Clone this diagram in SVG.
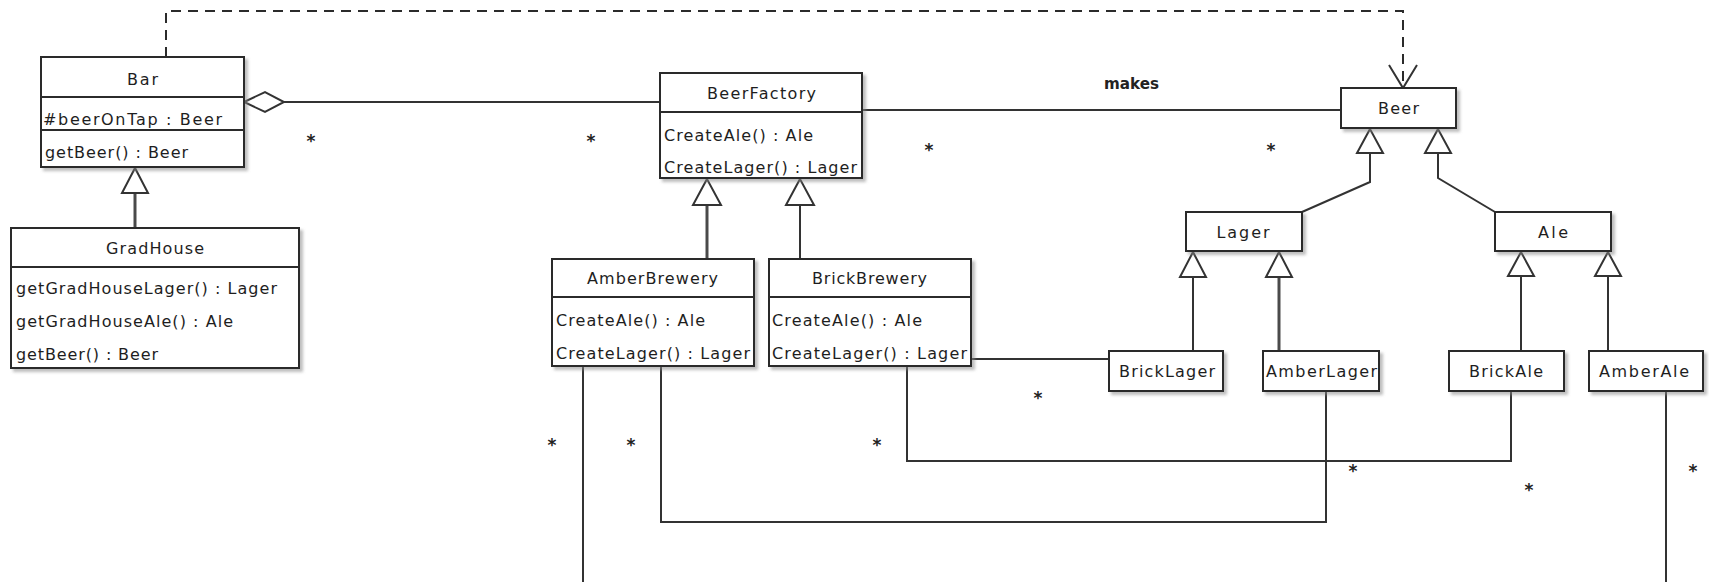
<svg xmlns="http://www.w3.org/2000/svg" width="1709" height="582" viewBox="0 0 1709 582">
<style>
.box{fill:#fff;stroke:#2b2b2b;stroke-width:2}
.div{stroke:#2b2b2b;stroke-width:2}
.t{font-family:"DejaVu Sans",Verdana,sans-serif;font-size:16px;fill:#1e1e1e}
.c{text-anchor:middle}
.ln{fill:none;stroke:#333;stroke-width:2}
.thk{fill:none;stroke:#4a4a4a;stroke-width:3}
.tri{fill:#fff;stroke:#333;stroke-width:2}
.dash{fill:none;stroke:#2b2b2b;stroke-width:2;stroke-dasharray:10,7}
.m{font-family:"DejaVu Sans",Verdana,sans-serif;font-size:17px;font-weight:bold;fill:#222;text-anchor:middle}
.mk{font-family:"DejaVu Sans",Verdana,sans-serif;font-size:16px;font-weight:bold;fill:#222}
</style>
<defs>
<filter id="sh" x="-10%" y="-10%" width="130%" height="140%">
<feDropShadow dx="3" dy="3" stdDeviation="1.5" flood-color="#888" flood-opacity="0.55"/>
</filter>
</defs>

<g id="connectors">
<!-- dependency Bar -> Beer -->
<polyline class="dash" points="166,57 166,11 1403,11 1403,86"/>
<polyline class="ln" points="1389,65 1403,88 1417,65"/>
<!-- aggregation Bar - BeerFactory -->
<polygon class="tri" points="244,102 265,92 284,102 265,112"/>
<line class="ln" x1="284" y1="102" x2="660" y2="102"/>
<!-- makes -->
<line class="ln" x1="862" y1="110" x2="1341" y2="110"/>
<!-- GradHouse -> Bar -->
<line class="thk" x1="135" y1="228" x2="135" y2="193"/>
<polygon class="tri" points="135,168 122,193 148,193"/>
<!-- AmberBrewery -> BeerFactory -->
<line class="thk" x1="707" y1="259" x2="707" y2="205"/>
<polygon class="tri" points="707,179 693,205 721,205"/>
<!-- BrickBrewery -> BeerFactory -->
<line class="ln" x1="800" y1="259" x2="800" y2="205"/>
<polygon class="tri" points="800,179 786,205 814,205"/>
<!-- Lager -> Beer -->
<polyline class="ln" points="1302,212 1370,182 1370,153"/>
<polygon class="tri" points="1370,129 1357,153 1383,153"/>
<!-- Ale -> Beer -->
<polyline class="ln" points="1495,212 1438,178 1438,153"/>
<polygon class="tri" points="1438,129 1425,153 1451,153"/>
<!-- BrickLager -> Lager -->
<line class="ln" x1="1193" y1="351" x2="1193" y2="277"/>
<polygon class="tri" points="1193,252 1180,277 1206,277"/>
<!-- AmberLager -> Lager -->
<line class="thk" x1="1279" y1="351" x2="1279" y2="277"/>
<polygon class="tri" points="1279,252 1266,277 1292,277"/>
<!-- BrickAle -> Ale -->
<line class="ln" x1="1521" y1="351" x2="1521" y2="276"/>
<polygon class="tri" points="1521,252 1508,276 1534,276"/>
<!-- AmberAle -> Ale -->
<line class="ln" x1="1608" y1="351" x2="1608" y2="276"/>
<polygon class="tri" points="1608,252 1595,276 1621,276"/>
<!-- associations -->
<line class="ln" x1="971" y1="359" x2="1109" y2="359"/>
<polyline class="ln" points="907,366 907,461 1511,461 1511,391"/>
<polyline class="ln" points="661,366 661,522 1326,522 1326,391"/>
<line class="ln" x1="583" y1="366" x2="583" y2="582"/>
<line class="ln" x1="1666" y1="391" x2="1666" y2="582"/>
<!-- labels -->
<text class="mk" x="1104" y="89" textLength="55" lengthAdjust="spacingAndGlyphs">makes</text>
<text class="m" x="311" y="147">*</text>
<text class="m" x="591" y="147">*</text>
<text class="m" x="929" y="156">*</text>
<text class="m" x="1271" y="156">*</text>
<text class="m" x="552" y="451">*</text>
<text class="m" x="631" y="451">*</text>
<text class="m" x="877" y="451">*</text>
<text class="m" x="1038" y="404">*</text>
<text class="m" x="1353" y="477">*</text>
<text class="m" x="1529" y="496">*</text>
<text class="m" x="1693" y="477">*</text>
</g>

<g id="Bar">
<rect class="box" filter="url(#sh)" x="41" y="57" width="203" height="110"/>
<line class="div" x1="41" y1="97" x2="244" y2="97"/>
<line class="div" x1="41" y1="130" x2="244" y2="130"/>
<text class="t c" x="142.5" y="85" textLength="31" lengthAdjust="spacing">Bar</text>
<text class="t" x="43" y="125" textLength="179" lengthAdjust="spacing">#beerOnTap : Beer</text>
<text class="t" x="45" y="158" textLength="143" lengthAdjust="spacing">getBeer() : Beer</text>
</g>

<g id="GradHouse">
<rect class="box" filter="url(#sh)" x="11" y="228" width="288" height="140"/>
<line class="div" x1="11" y1="267" x2="299" y2="267"/>
<text class="t c" x="155" y="254" textLength="98" lengthAdjust="spacing">GradHouse</text>
<text class="t" x="16" y="294" textLength="261" lengthAdjust="spacing">getGradHouseLager() : Lager</text>
<text class="t" x="16" y="327" textLength="217" lengthAdjust="spacing">getGradHouseAle() : Ale</text>
<text class="t" x="16" y="360" textLength="142" lengthAdjust="spacing">getBeer() : Beer</text>
</g>

<g id="BeerFactory">
<rect class="box" filter="url(#sh)" x="660" y="73" width="202" height="105"/>
<line class="div" x1="660" y1="112" x2="862" y2="112"/>
<text class="t c" x="761.5" y="99" textLength="109" lengthAdjust="spacing">BeerFactory</text>
<text class="t" x="664" y="141" textLength="149" lengthAdjust="spacing">CreateAle() : Ale</text>
<text class="t" x="664" y="173" textLength="193" lengthAdjust="spacing">CreateLager() : Lager</text>
</g>

<g id="AmberBrewery">
<rect class="box" filter="url(#sh)" x="552" y="259" width="202" height="107"/>
<line class="div" x1="552" y1="297" x2="754" y2="297"/>
<text class="t c" x="652.5" y="284" textLength="131" lengthAdjust="spacing">AmberBrewery</text>
<text class="t" x="556" y="326" textLength="149" lengthAdjust="spacing">CreateAle() : Ale</text>
<text class="t" x="556" y="359" textLength="194" lengthAdjust="spacing">CreateLager() : Lager</text>
</g>

<g id="BrickBrewery">
<rect class="box" filter="url(#sh)" x="769" y="259" width="202" height="107"/>
<line class="div" x1="769" y1="297" x2="971" y2="297"/>
<text class="t c" x="869.5" y="284" textLength="115" lengthAdjust="spacing">BrickBrewery</text>
<text class="t" x="772" y="326" textLength="150" lengthAdjust="spacing">CreateAle() : Ale</text>
<text class="t" x="772" y="359" textLength="195" lengthAdjust="spacing">CreateLager() : Lager</text>
</g>

<g id="Beer">
<rect class="box" filter="url(#sh)" x="1341" y="88" width="115" height="40"/>
<text class="t c" x="1398.5" y="114" textLength="41" lengthAdjust="spacing">Beer</text>
</g>

<g id="Lager">
<rect class="box" filter="url(#sh)" x="1186" y="212" width="116" height="39"/>
<text class="t c" x="1243" y="238" textLength="53" lengthAdjust="spacing">Lager</text>
</g>

<g id="Ale">
<rect class="box" filter="url(#sh)" x="1495" y="212" width="116" height="39"/>
<text class="t c" x="1553" y="238" textLength="30" lengthAdjust="spacing">Ale</text>
</g>

<g id="BrickLager">
<rect class="box" filter="url(#sh)" x="1109" y="351" width="114" height="40"/>
<text class="t c" x="1167" y="377" textLength="96" lengthAdjust="spacing">BrickLager</text>
</g>

<g id="AmberLager">
<rect class="box" filter="url(#sh)" x="1263" y="351" width="116" height="40"/>
<text class="t c" x="1321.5" y="377" textLength="111" lengthAdjust="spacing">AmberLager</text>
</g>

<g id="BrickAle">
<rect class="box" filter="url(#sh)" x="1449" y="351" width="115" height="40"/>
<text class="t c" x="1506" y="377" textLength="74" lengthAdjust="spacing">BrickAle</text>
</g>

<g id="AmberAle">
<rect class="box" filter="url(#sh)" x="1589" y="351" width="114" height="40"/>
<text class="t c" x="1644" y="377" textLength="90" lengthAdjust="spacing">AmberAle</text>
</g>
</svg>
